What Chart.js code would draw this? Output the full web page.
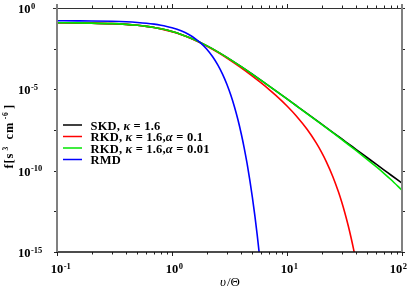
<!DOCTYPE html>
<html><head><meta charset="utf-8">
<script src="https://cdn.jsdelivr.net/npm/chart.js@4.4.0/dist/chart.umd.min.js"></script>
<style>html,body{margin:0;padding:0;background:#fff;overflow:hidden}#wrap{width:415px;height:288px;position:relative}</style>
</head><body><div id="wrap"><canvas id="c" width="415" height="288"></canvas></div>
<script>
// speeds v/Theta for the kappa-type curves
const vKappa = [0.1,0.15,0.2,0.3,0.4,0.5,0.6,0.7,0.8,1,1.2,1.5,2,2.5,3,4,5,6,7,8,10,12,15,20,25,30,35,40,50,60,70,80,100];
// log10 f
const skdLog10 = [-0.907,-0.916,-0.928,-0.962,-1.008,-1.064,-1.129,-1.202,-1.280,-1.448,-1.625,-1.891,-2.315,-2.696,-3.035,-3.608,-4.074,-4.465,-4.800,-5.093,-5.587,-5.994,-6.493,-7.139,-7.641,-8.052,-8.400,-8.701,-9.205,-9.616,-9.964,-10.266,-10.770];
const rkd001Log10 = [-0.907,-0.916,-0.928,-0.962,-1.008,-1.064,-1.129,-1.202,-1.280,-1.448,-1.625,-1.891,-2.315,-2.696,-3.035,-3.609,-4.075,-4.467,-4.802,-5.096,-5.591,-6.000,-6.503,-7.156,-7.668,-8.091,-8.453,-8.770,-9.314,-9.772,-10.177,-10.544,-11.204];
const vRkd01 = [0.1,0.15,0.2,0.3,0.4,0.5,0.6,0.7,0.8,1,1.2,1.5,2,2.5,3,4,5,6,7,8,10,12,15,18,20,22,25,28,30,32,34,36,38,40];
const rkd01Log10 = [-0.907,-0.916,-0.928,-0.962,-1.009,-1.065,-1.131,-1.204,-1.283,-1.452,-1.631,-1.901,-2.332,-2.723,-3.074,-3.677,-4.183,-4.621,-5.013,-5.371,-6.021,-6.619,-7.470,-8.309,-8.876,-9.456,-10.355,-11.302,-11.961,-12.645,-13.355,-14.092,-14.856,-15.650];
const vRmd = [0.1,0.15,0.2,0.3,0.4,0.5,0.6,0.7,0.8,0.9,1.0,1.2,1.4,1.6,1.8,2.0,2.25,2.5,2.75,3.0,3.25,3.5,3.75,4.0,4.25,4.5,4.75,5.0,5.25,5.5,5.75,6.0];
const rmdLog10 = [-0.784,-0.790,-0.797,-0.819,-0.849,-0.889,-0.936,-0.993,-1.058,-1.132,-1.214,-1.405,-1.631,-1.892,-2.187,-2.517,-2.979,-3.494,-4.064,-4.689,-5.367,-6.100,-6.887,-7.729,-8.625,-9.574,-10.579,-11.638,-12.750,-13.918,-15.139,-16.415];

const seriesLabels = ['SKD, κ = 1.6','RKD, κ = 1.6,α = 0.1','RKD, κ = 1.6,α = 0.01','RMD'];
const seriesColors = ['#000000','#ff0000','#00e600','#0000ff'];
const xTickExponents = ['-1','0','1','2'];
const yTickExponents = ['0','-5','-10','-15'];
const yMinorExponents = [-2.5,-7.5,-12.5];
const xTitle = ['υ','/Θ'];
const yTitle = ['f[s','3',' cm','-6',']'];

const pts = (xs, ls) => xs.map((x,i)=>({x:x, y:Math.pow(10, ls[i])}));
const SERIF = "'Liberation Serif','DejaVu Serif',serif";

function drawRich(ctx, text, x, y, size) {
  const parts = text.split(/([κα])/);
  for (const p of parts) {
    if (!p) continue;
    ctx.font = (/[κα]/.test(p) ? 'italic bold ' : 'bold ') + size + 'px ' + SERIF;
    ctx.fillText(p, x, y);
    x += ctx.measureText(p).width;
  }
}
function drawPow(ctx, exp, x, y, centerBase) {
  ctx.font = 'bold 12.5px ' + SERIF;
  const w = ctx.measureText('10').width;
  const x0 = centerBase ? x - w/2 : x;
  ctx.fillText('10', x0, y);
  ctx.font = 'bold 8.5px ' + SERIF;
  ctx.fillText(exp, x0 + w + 0.5, y - 4.5);
}

const axesPlugin = {
  id: 'axesPlugin',
  afterDraw(chart) {
    const ctx = chart.ctx, xs = chart.scales.x, ys = chart.scales.y, a = chart.chartArea;
    ctx.save();
    ctx.textBaseline = 'alphabetic';
    ctx.fillStyle = '#000';
    // ticks
    ctx.strokeStyle = '#222'; ctx.lineWidth = 1;
    ctx.beginPath();
    for (let d = -1; d <= 2; d++) {
      for (let m = 1; m <= 9; m++) {
        const v = m * Math.pow(10, d);
        if (v > 100.0001) break;
        const px = Math.round(xs.getPixelForValue(v)) + 0.5;
        const len = m === 1 ? 4 : 2.5;
        ctx.moveTo(px, a.top); ctx.lineTo(px, a.top - len);
        ctx.moveTo(px, a.bottom); ctx.lineTo(px, a.bottom + len);
      }
    }
    const yAll = yTickExponents.map(Number).concat(yMinorExponents);
    for (const e of yAll) {
      const py = Math.round(ys.getPixelForValue(Math.pow(10, e))) + 0.5;
      ctx.moveTo(a.left - 3, py); ctx.lineTo(a.left, py);
      ctx.moveTo(a.right, py); ctx.lineTo(a.right + 3, py);
    }
    ctx.stroke();
    // frame
    ctx.strokeStyle = '#333'; ctx.lineWidth = 1;
    ctx.beginPath(); ctx.moveTo(a.left - 4, a.top + 0.5); ctx.lineTo(a.right + 2, a.top + 0.5); ctx.stroke();
    ctx.strokeStyle = '#111'; ctx.lineWidth = 1.5;
    ctx.beginPath(); ctx.moveTo(a.left - 1, a.bottom); ctx.lineTo(a.right + 1, a.bottom); ctx.stroke();
    ctx.strokeStyle = '#808080'; ctx.lineWidth = 2;
    ctx.beginPath();
    ctx.moveTo(a.left, a.top - 4); ctx.lineTo(a.left, a.bottom);
    ctx.moveTo(a.right, a.top - 4); ctx.lineTo(a.right, a.bottom);
    ctx.stroke();
    // x tick labels
    xTickExponents.forEach((e, i) => {
      let px = xs.getPixelForValue(Math.pow(10, Number(e)));
      if (i === xTickExponents.length - 1) px -= 6;
      drawPow(ctx, e, px, a.bottom + 21, true);
    });
    // y tick labels
    yTickExponents.forEach(e => {
      const py = ys.getPixelForValue(Math.pow(10, Number(e)));
      drawPow(ctx, e, 18, py + 5, false);
    });
    // x title
    ctx.font = 'italic 13px ' + SERIF;
    const w1 = ctx.measureText(xTitle[0]).width;
    ctx.font = '13px ' + SERIF;
    const w2 = ctx.measureText(xTitle[1]).width;
    let tx = (a.left + a.right) / 2 - (w1 + w2) / 2;
    ctx.font = 'italic 13px ' + SERIF; ctx.fillText(xTitle[0], tx, 286);
    ctx.font = '13px ' + SERIF; ctx.fillText(xTitle[1], tx + w1 + 1, 286);
    // y title (rotated)
    ctx.save();
    ctx.translate(13, 135);
    ctx.rotate(-Math.PI / 2);
    ctx.letterSpacing = '0.8px';
    const sizes = [12.5, 7.5, 12.5, 7.5, 12.5], dys = [0, -5, 0, -5, 0];
    let tw = 0;
    yTitle.forEach((t, i) => { ctx.font = 'bold ' + sizes[i] + 'px ' + SERIF; tw += ctx.measureText(t).width + 2.5; });
    let cx = -tw / 2;
    yTitle.forEach((t, i) => { ctx.font = 'bold ' + sizes[i] + 'px ' + SERIF; ctx.fillText(t, cx, dys[i]); cx += ctx.measureText(t).width + 2.5; });
    ctx.restore();
    // legend
    const ly0 = 125, ldy = 11.5;
    ctx.letterSpacing = '0.2px';
    seriesLabels.forEach((lab, i) => {
      const y = ly0 + i * ldy;
      ctx.strokeStyle = seriesColors[i]; ctx.lineWidth = 1.5;
      ctx.beginPath(); ctx.moveTo(63, y); ctx.lineTo(82, y); ctx.stroke();
      ctx.fillStyle = '#000';
      drawRich(ctx, lab, 90.5, y + 4.5, 12.5);
    });
    ctx.restore();
  }
};

new Chart(document.getElementById('c').getContext('2d'), {
  type: 'line',
  data: { datasets: [
    { label: seriesLabels[0], data: pts(vKappa, skdLog10), borderColor: seriesColors[0], order: 3 },
    { label: seriesLabels[1], data: pts(vRkd01, rkd01Log10), borderColor: seriesColors[1], order: 2 },
    { label: seriesLabels[2], data: pts(vKappa, rkd001Log10), borderColor: seriesColors[2], order: 1 },
    { label: seriesLabels[3], data: pts(vRmd, rmdLog10), borderColor: seriesColors[3], order: 0 }
  ]},
  options: {
    responsive: false, animation: false, devicePixelRatio: 1,
    layout: { padding: { left: 57, right: 13, top: 8, bottom: 36 } },
    elements: { point: { radius: 0 }, line: { borderWidth: 1.6, cubicInterpolationMode: 'monotone', fill: false } },
    scales: {
      x: { type: 'logarithmic', min: 0.1, max: 100, display: false },
      y: { type: 'logarithmic', min: 1e-15, max: 1, display: false }
    },
    plugins: { legend: { display: false }, tooltip: { enabled: false } }
  },
  plugins: [axesPlugin]
});
</script></body></html>
